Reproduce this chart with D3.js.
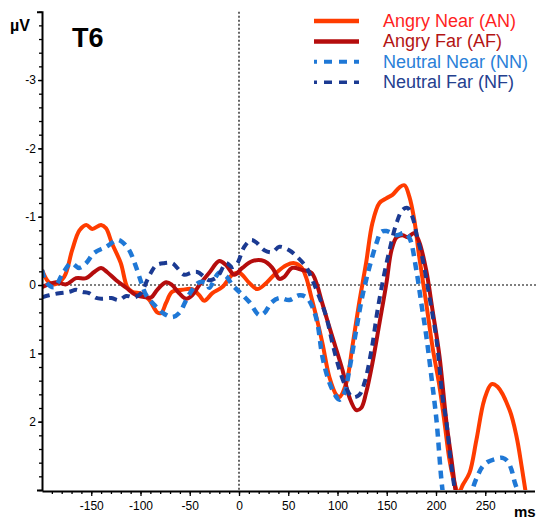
<!DOCTYPE html>
<html>
<head>
<meta charset="utf-8">
<script src="https://cdn.jsdelivr.net/npm/d3@7"></script>
<style>
  body { margin: 0; background: #fff; }
  text { font-family: "Liberation Sans", Arial, sans-serif; }
</style>
</head>
<body>
<svg id="chart"></svg>
<script>
// ERP waveforms at T6, [ms, µV] (negative is up)
const angryNear = [
  [-200, -0.22], [-193, -0.04], [-187, -0.01], [-177.5, -0.12], [-169.4, -0.51], [-162, -0.80],
  [-155, -0.88], [-149, -0.82], [-140, -0.88], [-135, -0.83], [-129, -0.61], [-120, -0.32],
  [-113.5, 0.03], [-108.4, 0.10], [-98.3, 0.13], [-91, 0.22], [-83, 0.40], [-79, 0.41],
  [-74, 0.26], [-68, 0.10], [-57.6, 0.07], [-47.5, 0.06], [-40.3, 0.15], [-35.3, 0.23],
  [-27, 0.12], [-17, 0.03], [-6.8, -0.15], [0.3, -0.18], [10.5, -0.03], [18.6, 0.06],
  [27.7, -0.03], [37.9, -0.18], [48, -0.29], [56.2, -0.32], [63.3, -0.26], [68.4, -0.10],
  [73.5, 0.18], [78.6, 0.47], [84.7, 0.85], [91.8, 1.35], [98.9, 1.61], [102, 1.64],
  [109, 1.43], [115, 0.91], [122, 0.26], [129, -0.32], [135.5, -0.91], [142.6, -1.20],
  [149.7, -1.27], [155.8, -1.32], [163, -1.43], [168, -1.46], [173, -1.29], [178, -0.95],
  [183, -0.41], [190, 0.26], [196.5, 0.91], [203.6, 1.49], [208.7, 2.02], [213.7, 2.56],
  [218.8, 2.9], [222.9, 3.05], [227, 2.93], [234, 2.75], [241, 2.27], [249, 1.68],
  [256.4, 1.45], [262.5, 1.49], [274.7, 1.83], [281.8, 2.22], [287, 2.66], [291, 3.03], [295, 3.4]
];
const angryFar = [
  [-200, 0.03], [-185.7, -0.04], [-175.5, -0.01], [-165.4, -0.10], [-155.2, -0.10], [-147, -0.19],
  [-140, -0.25], [-134, -0.19], [-124.7, -0.07], [-114.5, 0.04], [-104.4, 0.15], [-94.2, 0.18],
  [-89, 0.18], [-83, 0.07], [-74, -0.04], [-68, 0.0], [-60.7, 0.12], [-53.6, 0.20],
  [-47.5, 0.15], [-40.3, 0.0], [-30.2, -0.18], [-20, -0.35], [-13, -0.29], [-4.8, -0.15],
  [3.4, -0.25], [13.5, -0.35], [25.7, -0.35], [33.8, -0.25], [41, -0.09], [46, -0.12],
  [54, -0.25], [64.3, -0.22], [73.5, -0.18], [78.6, -0.03], [83.6, 0.22], [88.7, 0.47],
  [94.8, 0.76], [105, 1.24], [112, 1.64], [119, 1.83], [124, 1.80], [129, 1.58],
  [135.5, 1.14], [142.6, 0.56], [149.7, -0.03], [154.8, -0.51], [160, -0.70], [166, -0.73],
  [171, -0.70], [178, -0.76], [183, -0.63], [190, -0.22], [196.5, 0.37], [203.6, 1.05],
  [210.7, 2.02], [215.8, 2.56], [220, 3.03], [224, 3.4]
];
const neutralNear = [
  [-200, -0.22], [-195.7, -0.04], [-187.7, 0.03], [-179.6, -0.15], [-170.4, -0.32], [-162.3, -0.25],
  [-155.2, -0.32], [-147, -0.47], [-134.8, -0.56], [-123.7, -0.66], [-118.6, -0.63], [-111.5, -0.51],
  [-104.4, -0.26], [-99.3, -0.04], [-94.2, 0.15], [-86, 0.29], [-78, 0.40], [-67.8, 0.47],
  [-60.7, 0.41], [-53.6, 0.22], [-47.5, 0.07], [-40.3, -0.04], [-33.2, -0.03], [-30.2, 0.04],
  [-20, -0.18], [-13, -0.13], [-6.8, 0.0], [0.3, 0.10], [10.5, 0.25], [20.6, 0.44],
  [25.7, 0.41], [32.8, 0.26], [41, 0.19], [51, 0.22], [61.3, 0.15], [68.4, 0.18],
  [74.5, 0.32], [79.6, 0.56], [84.7, 1.05], [91.8, 1.43], [98.9, 1.64], [102, 1.68],
  [107, 1.58], [112, 1.24], [119, 0.66], [125, 0.18], [132.4, -0.26], [139.5, -0.61],
  [144.6, -0.78], [149.7, -0.79], [160, -0.73], [168, -0.76], [173, -0.69], [180, -0.22],
  [185, 0.26], [190, 0.73], [195.4, 1.35], [200.5, 1.98], [206.6, 3.0], [211.7, 3.44],
  [222, 3.7], [232, 3.44], [237, 3.0], [242, 2.80], [247, 2.66], [252.4, 2.59],
  [259.5, 2.55], [267.6, 2.53], [272.7, 2.58], [276.8, 2.71], [279.8, 2.88], [283, 3.03], [287, 3.44]
];
const neutralFar = [
  [-200, 0.18], [-192.8, 0.15], [-182.6, 0.12], [-172.4, 0.10], [-165.4, 0.07], [-159.3, 0.10],
  [-152.2, 0.12], [-145, 0.19], [-139, 0.20], [-129.8, 0.19], [-121.7, 0.22], [-114.5, 0.16],
  [-106.4, 0.18], [-99.3, 0.12], [-94.2, -0.04], [-89, -0.19], [-84, -0.29], [-76, -0.32],
  [-67.8, -0.32], [-62.7, -0.25], [-55.6, -0.15], [-48.5, -0.18], [-42.4, -0.19], [-35.3, -0.12],
  [-30.2, -0.07], [-22, -0.12], [-13, -0.32], [-6.8, -0.26], [-1.7, -0.32], [5.4, -0.56],
  [12.5, -0.66], [18.6, -0.61], [25.7, -0.51], [33.8, -0.48], [41, -0.56], [51, -0.51],
  [59.3, -0.41], [68.4, -0.26], [74.5, -0.07], [81.6, 0.18], [88.7, 0.47], [94.8, 0.85],
  [102, 1.24], [109, 1.51], [115, 1.64], [122, 1.61], [127.4, 1.43], [134.5, 0.95],
  [140.6, 0.37], [147.7, -0.18], [152.8, -0.51], [160, -0.91], [166, -1.10], [171, -1.13],
  [176, -1.00], [181, -0.70], [186, -0.41], [193.4, 0.18], [200.5, 0.80], [206.6, 1.64],
  [210.7, 2.02], [214.8, 2.56], [219, 3.0], [223, 3.44]
];

const seriesNames = ["Angry Near (AN)", "Angry Far (AF)", "Neutral Near (NN)", "Neutral Far (NF)"];
const yTicks = [-3, -2, -1, 0, 1, 2];
const xTicks = [-150, -100, -50, 0, 50, 100, 150, 200, 250];

class ErpPlot {
    constructor(_config) {
        this.config = {
            parentElement: _config.parentElement,
            containerWidth: _config.containerWidth || 536,
            containerHeight: _config.containerHeight || 520,
        };
        this.series = [
            {name: seriesNames[0], data: angryNear, line: "#ff3c00", text: "#ff1f1f", width: 4, dash: null},
            {name: seriesNames[1], data: angryFar, line: "#b50d0d", text: "#b31414", width: 4, dash: null},
            {name: seriesNames[2], data: neutralNear, line: "#1f78d6", text: "#2a80d8", width: 4.5, dash: "8,6"},
            {name: seriesNames[3], data: neutralFar, line: "#1b3a92", text: "#24408f", width: 4, dash: "8,6"}
        ];
        this.initVis();
    }

    initVis() {
        let vis = this;

        vis.svg = d3.select(vis.config.parentElement)
            .attr("width", vis.config.containerWidth)
            .attr("height", vis.config.containerHeight);

        vis.xScale = d3.scaleLinear().domain([-200, 300]).range([42, 534.5]);
        vis.yScale = d3.scaleLinear().domain([-4, 3]).range([11.7, 490]);

        vis.svg.append("clipPath").attr("id", "plot-clip")
            .append("rect")
            .attr("x", 42).attr("y", 0)
            .attr("width", vis.config.containerWidth - 42)
            .attr("height", vis.yScale(3));

        vis.renderVis();
    }

    renderVis() {
        let vis = this;
        const x = vis.xScale, y = vis.yScale;

        // dotted reference lines at 0 µV and 0 ms
        vis.svg.append("line")
            .attr("x1", x(-200)).attr("x2", vis.config.containerWidth)
            .attr("y1", y(0)).attr("y2", y(0))
            .attr("stroke", "#000").attr("stroke-width", 1.2).attr("stroke-dasharray", "2,2");
        vis.svg.append("line")
            .attr("x1", x(0)).attr("x2", x(0))
            .attr("y1", y(-4)).attr("y2", y(3))
            .attr("stroke", "#000").attr("stroke-width", 1.2).attr("stroke-dasharray", "2,2");

        // waveforms
        const line = d3.line()
            .x(d => x(d[0]))
            .y(d => y(d[1]))
            .curve(d3.curveCatmullRom.alpha(0.5));

        vis.svg.append("g")
            .attr("clip-path", "url(#plot-clip)")
            .selectAll("path")
            .data(vis.series)
            .join("path")
            .attr("d", d => line(d.data))
            .attr("fill", "none")
            .attr("stroke", d => d.line)
            .attr("stroke-width", d => d.width)
            .attr("stroke-dasharray", d => d.dash)
            .attr("stroke-linejoin", "round");

        // y axis: minor ticks every 0.2, labelled majors
        vis.svg.append("g")
            .attr("transform", `translate(${x(-200)},0)`)
            .call(d3.axisLeft(y).tickValues(d3.range(-40, 31, 2).map(v => v / 10)).tickSize(3).tickFormat(""))
            .call(g => g.select(".domain").remove());
        const yAxisG = vis.svg.append("g")
            .attr("transform", `translate(${x(-200)},0)`)
            .call(d3.axisLeft(y).tickValues(yTicks).tickSize(4).tickSizeOuter(5).tickPadding(2).tickFormat(d => String(d)));
        yAxisG.selectAll("text").attr("font-size", 12).attr("fill", "#000").style("font-family", "Liberation Sans, Arial, sans-serif");

        // x axis: minor ticks every 10 ms
        vis.svg.append("g")
            .attr("transform", `translate(0,${y(3) + 1})`)
            .call(d3.axisBottom(x).tickValues(d3.range(-190, 300, 10)).tickSize(3).tickFormat(""))
            .call(g => g.select(".domain").remove());
        const xAxisG = vis.svg.append("g")
            .attr("transform", `translate(0,${y(3) + 1})`)
            .call(d3.axisBottom(x).tickValues(xTicks).tickSize(5).tickSizeOuter(0).tickPadding(5).tickFormat(d => String(d)));
        xAxisG.selectAll("text").attr("font-size", 12).attr("fill", "#000").style("font-family", "Liberation Sans, Arial, sans-serif");

        vis.svg.selectAll(".domain, .tick line").attr("stroke", "#000");
        vis.svg.selectAll(".domain").attr("stroke-width", 2);
        vis.svg.selectAll(".tick line").attr("stroke-width", 1.3);

        // titles
        vis.svg.append("text").attr("x", 10).attr("y", 31)
            .attr("font-size", 16).attr("font-weight", "bold").text("µV");
        vis.svg.append("text").attr("x", 72).attr("y", 47)
            .attr("font-size", 27).attr("font-weight", "bold").text("T6");
        vis.svg.append("text").attr("x", 514).attr("y", 517)
            .attr("font-size", 15).attr("font-weight", "bold").text("ms");

        // legend
        const legend = vis.svg.append("g")
            .selectAll("g")
            .data(vis.series)
            .join("g")
            .attr("transform", (d, i) => `translate(314,${21 + i * 20.4})`);
        legend.append("line")
            .attr("x1", 0).attr("x2", 45)
            .attr("stroke", d => d.line)
            .attr("stroke-width", d => d.dash ? d.width - 0.5 : 4.5)
            .attr("stroke-dasharray", d => d.dash ? "8,7" : null)
            .attr("stroke-dashoffset", 5);
        legend.append("text")
            .attr("x", 69).attr("y", 6)
            .attr("font-size", 18)
            .attr("fill", d => d.text)
            .text(d => d.name);
    }
}

new ErpPlot({parentElement: "#chart"});
</script>
</body>
</html>
